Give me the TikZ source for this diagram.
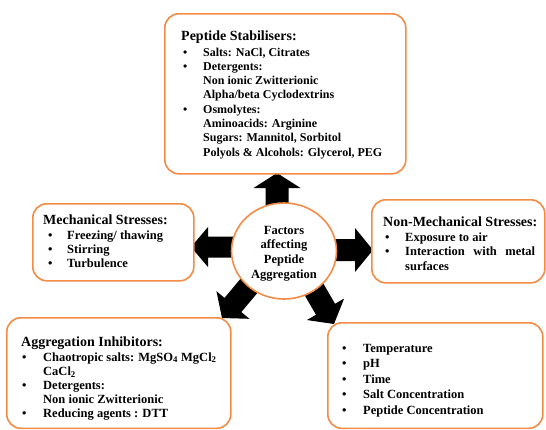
\documentclass[tikz,border=0pt]{standalone}
\usepackage{fontspec}
\setmainfont{Liberation Serif}
\usetikzlibrary{shapes.geometric,calc}
\definecolor{boxorange}{RGB}{242,140,70}
\tikzset{
  box/.style={draw=boxorange, line width=1.6pt, rounded corners=14pt, fill=white, anchor=north west, inner sep=0pt},
  hub/.style={ellipse, draw=boxorange, line width=1.6pt, fill=white, minimum width=105pt, minimum height=96pt, inner sep=0pt},
  txt/.style={anchor=base west, inner sep=0pt, font=\bfseries},
  arrowfill/.style={fill=black},
}
\newcommand\titlef{\fontsize{14}{16}\selectfont}
\newcommand\blt[1]{\hspace*{#1}\textbullet}
\newcommand\blockarrow[6]{%
  \begin{scope}[shift={(#1)}, rotate=#2]
  \fill[arrowfill] (0pt,{-#6pt}) -- ({#3pt-#4pt},{-#6pt}) -- ({#3pt-#4pt},{-#5pt}) -- ({#3pt},0pt) -- ({#3pt-#4pt},{#5pt}) -- ({#3pt-#4pt},{#6pt}) -- (0pt,{#6pt}) -- cycle;
  \end{scope}}
\hyphenpenalty=10000
\begin{document}
\begin{tikzpicture}[x=1pt,y=-1pt]
\useasboundingbox[fill=white] (0,0) rectangle (546,429);
% arrow tails (inside the hub; the hub covers them)
\coordinate (tup) at (277,210);
\coordinate (tleft) at (235,247);
\coordinate (tright) at (331,250);
\coordinate (tll) at (252.2,282);
\coordinate (tlr) at (310.5,283.3);
\blockarrow{tup}{90}{37}{15}{23.5}{11.5}
\blockarrow{tleft}{180}{44}{17}{20}{10.5}
\blockarrow{tright}{0}{42}{18}{22}{11}
\blockarrow{tll}{230}{47}{17}{21.5}{11}
\blockarrow{tlr}{-60}{47}{17}{21.5}{11}
% hub
\node[hub] (hub) at (284,251) {};
\node[anchor=base, inner sep=0pt, font=\bfseries] (hubtext) at (284,234)
  {\fontsize{12.5}{14.7}\selectfont\begin{tabular}[t]{@{}c@{}}Factors\\affecting\\Peptide\\Aggregation\end{tabular}};
% boxes
\node[box, minimum width=241pt, minimum height=160pt] (stab) at (164,13) {};
\node[box, minimum width=161pt, minimum height=77pt] (mech) at (32,203) {};
\node[box, minimum width=173pt, minimum height=83pt] (nonmech) at (371,199) {};
\node[box, minimum width=224pt, minimum height=110.5pt] (inhib) at (6,317) {};
\node[box, minimum width=215pt, minimum height=105.5pt] (cond) at (327,322) {};
% texts
\node[txt] (stabtext) at (181,40) {\fontsize{12}{14.3}\selectfont\begin{tabular}[t]{@{}p{22pt}@{}l@{}}
\multicolumn{2}{@{}l@{}}{\titlef Peptide Stabilisers:}\\[1.7pt]
\blt{2pt} & Salts: NaCl, Citrates\\
\blt{2pt} & Detergents:\\
 & Non ionic Zwitterionic\\
 & Alpha/beta Cyclodextrins\\
\blt{2pt} & Osmolytes:\\
 & Aminoacids: Arginine\\
 & Sugars: Mannitol, Sorbitol\\
 & Polyols \& Alcohols: Glycerol, PEG
\end{tabular}};
\node[txt] (mechtext) at (43,224) {\fontsize{12.5}{14.2}\selectfont\begin{tabular}[t]{@{}p{24pt}@{}l@{}}
\multicolumn{2}{@{}l@{}}{\titlef Mechanical Stresses:}\\[0.8pt]
\blt{5pt} & Freezing/ thawing\\
\blt{5pt} & Stirring\\
\blt{5pt} & Turbulence
\end{tabular}};
\node[txt] (nonmechtext) at (383,226) {\fontsize{12.5}{14.5}\selectfont\begin{tabular}[t]{@{}p{22pt}@{}p{130pt}@{}}
\multicolumn{2}{@{}l@{}}{\titlef Non-Mechanical Stresses:}\\[0.5pt]
\blt{2pt} & Exposure to air\\
\blt{2pt} & Interaction with metal surfaces
\end{tabular}};
\node[txt] (inhibtext) at (21,346) {\fontsize{12.5}{14.2}\selectfont\begin{tabular}[t]{@{}p{22pt}@{}l@{}}
\multicolumn{2}{@{}l@{}}{\titlef Aggregation Inhibitors:}\\[0.8pt]
\blt{1pt} & Chaotropic salts: MgSO\textsubscript{4} MgCl\textsubscript{2}\\
 & CaCl\textsubscript{2}\\
\blt{1pt} & Detergents:\\
 & Non ionic Zwitterionic\\
\blt{1pt} & Reducing agents : DTT
\end{tabular}};
\node[txt] (condtext) at (342,352) {\fontsize{12.5}{15.5}\selectfont\begin{tabular}[t]{@{}p{21pt}@{}l@{}}
\blt{0pt} & Temperature\\
\blt{0pt} & pH\\
\blt{0pt} & Time\\
\blt{0pt} & Salt Concentration\\
\blt{0pt} & Peptide Concentration
\end{tabular}};
\end{tikzpicture}
\end{document}
